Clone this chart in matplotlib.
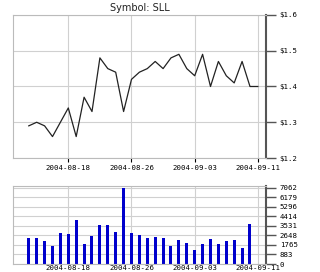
import matplotlib
matplotlib.use("Agg")
import matplotlib.pyplot as plt
import pandas as pd

# daily quotes, 2004-08-13 .. 2004-09-11
dates = pd.date_range("2004-08-13", "2004-09-11", freq="D")
price = [1.29, 1.30, 1.29, 1.26, 1.30, 1.34, 1.26, 1.37, 1.33, 1.48,
         1.45, 1.44, 1.33, 1.42, 1.44, 1.45, 1.47, 1.45, 1.48, 1.49,
         1.45, 1.43, 1.49, 1.40, 1.47, 1.43, 1.41, 1.47, 1.40, 1.40]
volume = [2446, 2446, 2109, 1712, 2843, 2751, 4035, 1865, 2598, 3577,
          3577, 2996, 7062, 2843, 2690, 2446, 2507, 2446, 1712, 2262,
          1956, 1315, 1895, 2354, 1895, 2140, 2201, 1467, 3730, 0]

title = "Symbol: SLL"
x_ticks = ["2004-08-18", "2004-08-26", "2004-09-03", "2004-09-11"]
price_ticks = [1.2, 1.3, 1.4, 1.5, 1.6]
vol_ticks = [0, 883, 1765, 2648, 3531, 4414, 5296, 6179, 7062]

mono = "DejaVu Sans Mono"
grid_c = "#d0d0d0"
frame_c = "#bbbbbb"
axis_c = "#555555"

fig = plt.figure(figsize=(3.2, 2.72), dpi=100)
ax1 = fig.add_axes([0.0406, 0.419, 0.790, 0.526])
ax2 = fig.add_axes([0.0406, 0.0294, 0.790, 0.287])

xt = pd.to_datetime(x_ticks)
xlim = (pd.Timestamp("2004-08-11"), pd.Timestamp("2004-09-12"))


def style(ax):
    ax.set_xlim(*xlim)
    ax.set_xticks(xt)
    ax.grid(True, color=grid_c, linewidth=0.8)
    ax.set_axisbelow(True)
    for s in ("left", "top", "bottom"):
        ax.spines[s].set_color(frame_c)
        ax.spines[s].set_linewidth(0.8)
    ax.spines["right"].set_color(axis_c)
    ax.spines["right"].set_linewidth(1.5)
    ax.yaxis.tick_right()
    ax.tick_params(axis="y", length=7, width=1, color=axis_c, pad=3,
                   labelsize=5.3)
    ax.tick_params(axis="x", length=3, width=0.8, color="black", pad=2,
                   labelsize=5.3)


ax1.plot(dates, price, color="#222222", linewidth=0.9)
style(ax1)
ax1.set_ylim(1.2, 1.6)
ax1.set_yticks(price_ticks)
ax1.set_yticklabels(["$%.1f" % v for v in price_ticks], fontfamily=mono)
ax1.set_xticklabels(x_ticks, fontfamily=mono)
ax1.set_title(title, fontsize=7, pad=3, color="#222222")

ax2.bar(dates, volume, width=0.38, color="#0000cc")
style(ax2)
ax2.set_ylim(0, max(vol_ticks) * 1.025)
ax2.set_yticks(vol_ticks)
ax2.set_yticklabels([str(v) for v in vol_ticks], fontfamily=mono)
ax2.set_xticklabels(x_ticks, fontfamily=mono)
ax2.tick_params(axis="x", length=0, pad=1)

fig.savefig("out.png", dpi=100)
